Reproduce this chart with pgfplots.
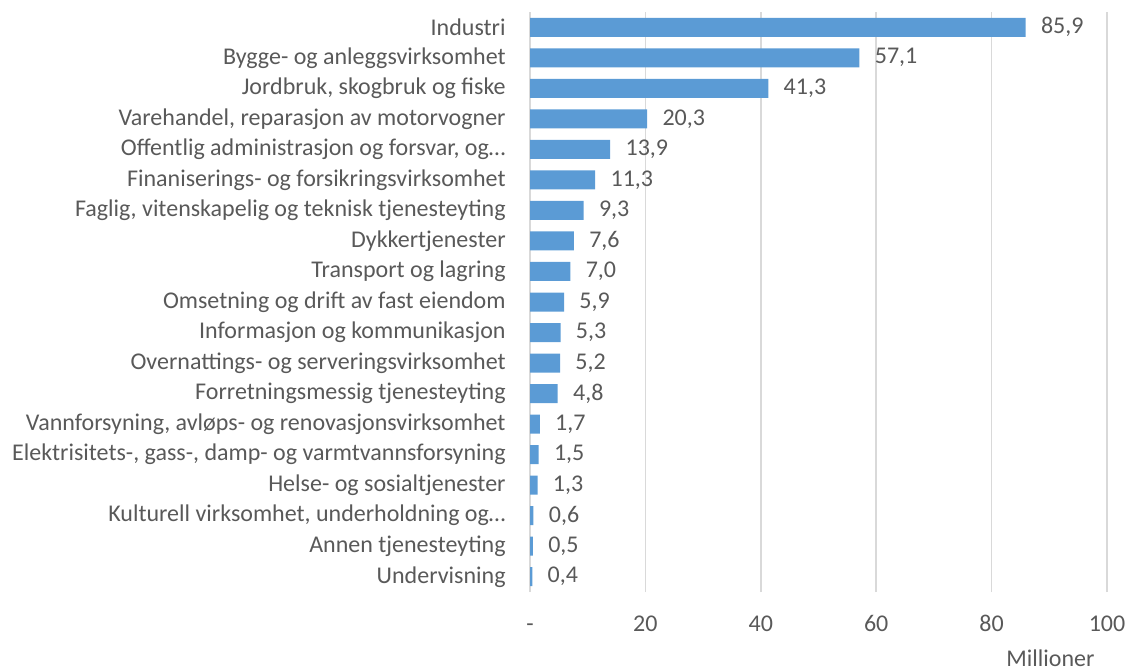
\documentclass[border=0pt]{standalone}
\usepackage{fontspec}
\setmainfont{Carlito}
\usepackage{pgfplots}
\pgfplotsset{compat=1.18}
\definecolor{barblue}{HTML}{5B9BD5}
\definecolor{txt}{HTML}{595959}
\definecolor{gridgray}{HTML}{D9D9D9}

\begin{document}
\fontsize{12}{14}\selectfont
\begin{tikzpicture}
\useasboundingbox (0,0) rectangle (564.5pt,335pt);
\begin{axis}[
  at={(265pt,39pt)}, anchor=south west,
  width=288.5pt, height=290pt, scale only axis,
  xbar, bar width=9.5pt,
  xmin=0, xmax=100, ymin=-0.5, ymax=18.5,
  xtick={0,20,40,60,80,100},
  xticklabels={-,20,40,60,80,100},
  ytick={0,...,18},
  yticklabels={
    Undervisning,
    Annen tjenesteyting,
    {Kulturell virksomhet, underholdning og…},
    Helse- og sosialtjenester,
    {Elektrisitets-, gass-, damp- og varmtvannsforsyning},
    {Vannforsyning, avløps- og renovasjonsvirksomhet},
    Forretningsmessig tjenesteyting,
    Overnattings- og serveringsvirksomhet,
    Informasjon og kommunikasjon,
    Omsetning og drift av fast eiendom,
    Transport og lagring,
    Dykkertjenester,
    {Faglig, vitenskapelig og teknisk tjenesteyting},
    Finaniserings- og forsikringsvirksomhet,
    {Offentlig administrasjon og forsvar, og…},
    {Varehandel, reparasjon av motorvogner},
    {Jordbruk, skogbruk og fiske},
    Bygge- og anleggsvirksomhet,
    Industri},
  major tick length=0,
  axis line style={draw=none},
  xmajorgrids, grid style={gridgray, line width=0.75pt},
  tick label style={font=\fontsize{12}{14}\selectfont, text=txt},
  yticklabel style={xshift=-8pt},
  xticklabel style={yshift=-7pt, text height=8.5pt, text depth=0pt},
  xlabel={Millioner},
  xlabel style={at={(axis description cs:0.902,0)}, anchor=center, yshift=-33pt, font=\fontsize{12}{14}\selectfont, text=txt},
  /pgf/number format/assume math mode=true,
  nodes near coords={\pgfmathprintnumber[fixed,fixed zerofill,precision=1,use comma,assume math mode=true]{\pgfplotspointmeta}},
  nodes near coords style={font=\fontsize{12}{14}\selectfont, text=txt, anchor=west, xshift=3.5pt},
  point meta=x,
]
\addplot[fill=barblue, draw=none] coordinates {
  (0.4,0) (0.5,1) (0.6,2) (1.3,3) (1.5,4) (1.7,5)
  (4.8,6) (5.2,7) (5.3,8) (5.9,9) (7.0,10) (7.6,11)
  (9.3,12) (11.3,13) (13.9,14) (20.3,15) (41.3,16)
  (57.1,17) (85.9,18)
};
\end{axis}
\end{tikzpicture}
\end{document}
